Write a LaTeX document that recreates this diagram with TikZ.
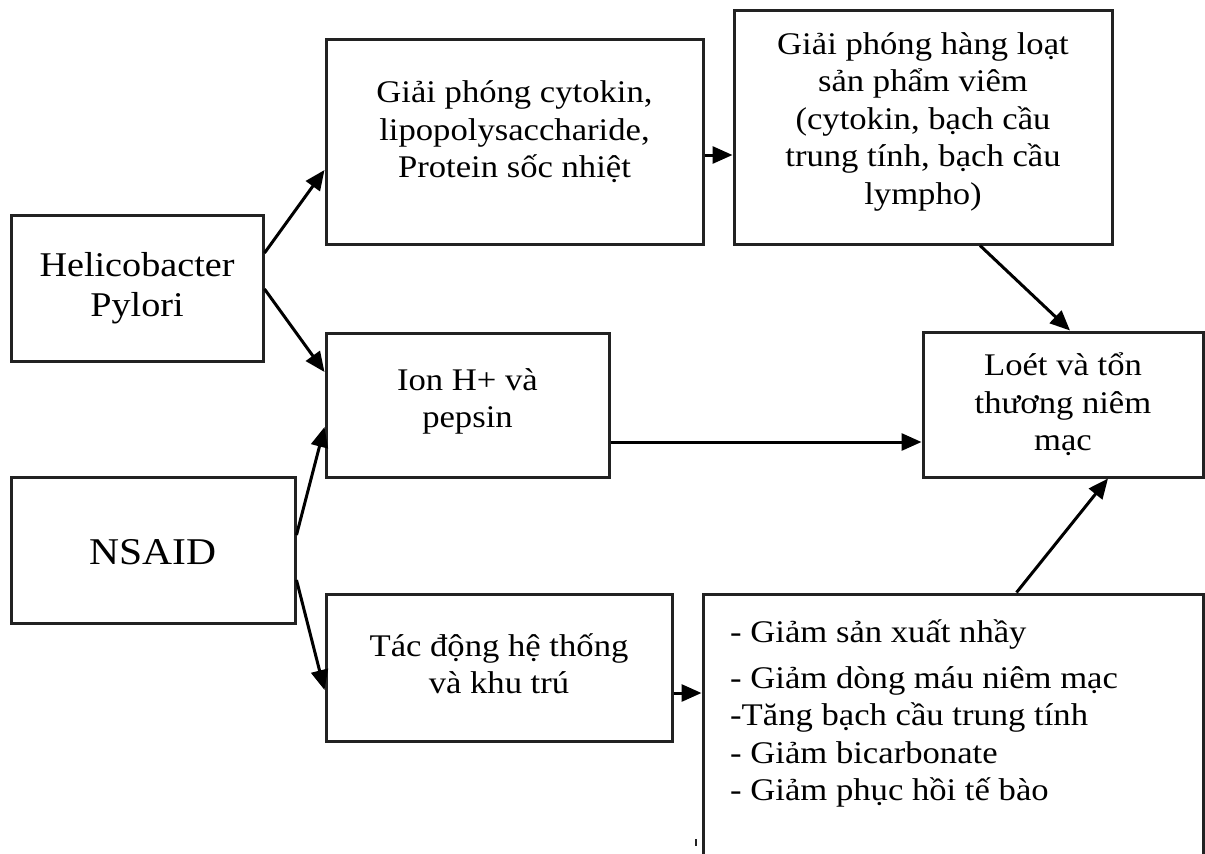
\documentclass[tikz,border=0pt]{standalone}
\usepackage{fontspec}
\setmainfont{Liberation Serif}[FakeStretch=1.1]
\usetikzlibrary{arrows.meta}
\definecolor{ln}{HTML}{222222}
\begin{document}
\begin{tikzpicture}[x=1pt,y=-1pt,
  box/.style={draw=ln,line width=3pt,rectangle,inner sep=0pt},
  txt/.style={inner sep=0pt,align=center,font=\fontsize{31.5}{37.5}\selectfont},
  arr/.style={draw=black,line width=3pt,-{Triangle[length=20pt,width=17pt]}}]
\clip (0,0) rectangle (1205,854);
\fill[white] (0,0) rectangle (1205,854);
% boxes
\node[box,minimum width=252pt,minimum height=146pt] (helico) at (137,288) {};
\node[box,minimum width=377pt,minimum height=205pt] (rel1) at (514.5,141.5) {};
\node[box,minimum width=378pt,minimum height=234pt] (rel2) at (923,127) {};
\node[box,minimum width=280pt,minimum height=145pt] (ulcer) at (1063,404.5) {};
\node[box,minimum width=283pt,minimum height=144pt] (ion) at (467.5,405) {};
\node[box,minimum width=284pt,minimum height=146pt] (nsaid) at (153,550) {};
\node[box,minimum width=346pt,minimum height=147pt] (tac) at (499,667.5) {};
\node[box,minimum width=500pt,minimum height=300pt] (eff) at (953,744) {};
% texts
\node[txt,font=\fontsize{34.7}{40}\selectfont] (helicoT) at (137,288) {Helicobacter\\Pylori};
\node[txt] (rel1T) at (514.5,132) {Giải phóng cytokin,\\lipopolysaccharide,\\Protein sốc nhiệt};
\node[txt] (rel2T) at (923,121.5) {Giải phóng hàng loạt\\sản phẩm viêm\\(cytokin, bạch cầu\\trung tính, bạch cầu\\lympho)};
\node[txt] (ulcerT) at (1063,404.5) {Loét và tổn\\thương niêm\\mạc};
\node[txt] (ionT) at (467.5,401.5) {Ion H+ và\\pepsin};
\node[txt,font=\fontsize{37.8}{44}\selectfont] (nsaidT) at (153,552.5) {NSAID};
\node[txt] (tacT) at (499,663.5) {Tác động hệ thống\\và khu trú};
\node[txt,align=left,anchor=north west] (effT) at (730,619) {- Giảm sản xuất nhầy\\[8.5pt]- Giảm dòng máu niêm mạc\\-Tăng bạch cầu trung tính\\- Giảm bicarbonate\\- Giảm phục hồi tế bào};
% stray mark
\fill[ln] (694.5,839) rectangle (696.5,846);
% arrows
\draw[arr] ([yshift=35pt]helico.east) -- ([yshift=-28.5pt]rel1.west);
\draw[arr] ([yshift=-1pt]helico.east) -- ([yshift=33pt]ion.west);
\draw[arr] ([yshift=-13.5pt]rel1.east) -- ([yshift=-13.5pt]rel1.east -| rel2.west);
\draw[arr] ([xshift=57pt]rel2.south) -- ([xshift=7pt]ulcer.north);
\draw[arr] ([yshift=-37pt]ion.east) -- ([yshift=-37pt]ion.east -| ulcer.west);
\draw[arr] ([yshift=15pt]nsaid.east) -- ([yshift=-22pt]ion.west);
\draw[arr] ([yshift=-30pt]nsaid.east) -- ([yshift=-22.5pt]tac.west);
\draw[arr] ([yshift=-25.5pt]tac.east) -- ([yshift=-25.5pt]tac.east -| eff.west);
\draw[arr] ([xshift=315pt]eff.north west) -- ([xshift=45pt]ulcer.south);
\end{tikzpicture}
\end{document}
